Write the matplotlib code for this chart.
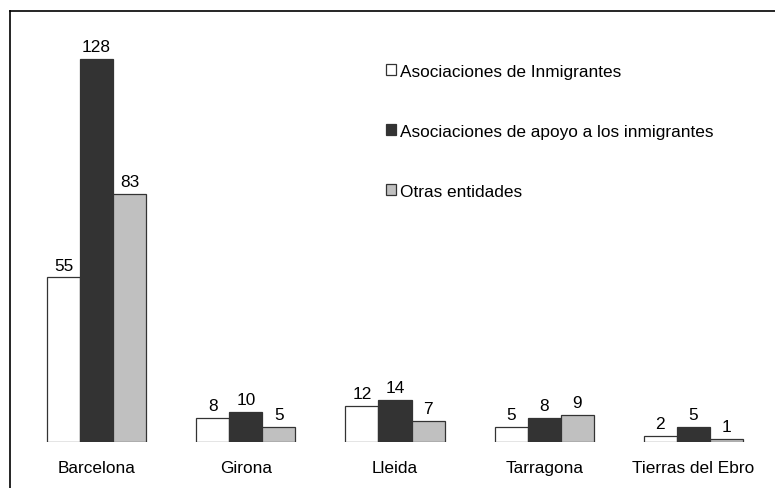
import numpy as np
import matplotlib.pyplot as plt
from matplotlib.patches import Patch
from matplotlib.lines import Line2D

plt.rcParams['font.family'] = ['Liberation Sans', 'DejaVu Sans']

regiones = ['Barcelona', 'Girona', 'Lleida', 'Tarragona', 'Tierras del Ebro']
inmigrantes = [55, 8, 12, 5, 2]
apoyo = [128, 10, 14, 8, 5]
otras = [83, 5, 7, 9, 1]

series = ['Asociaciones de Inmigrantes',
          'Asociaciones de apoyo a los inmigrantes',
          'Otras entidades']
colores = ['#ffffff', '#333333', '#c0c0c0']

fig = plt.figure(figsize=(7.75, 4.89), dpi=100)
ax = fig.add_axes([22 / 775, 46 / 489, 746 / 775, 419 / 489])

x = np.arange(len(regiones))
w = 0.222
fs = 12.4
for i, (vals, col, lab) in enumerate(zip([inmigrantes, apoyo, otras], colores, series)):
    bars = ax.bar(x + (i - 1) * w, vals, w, color=col, edgecolor='#333333',
                  linewidth=0.9, label=lab)
    for b, v in zip(bars, vals):
        ax.annotate(str(v), (b.get_x() + b.get_width() / 2, b.get_height()),
                    xytext=(0, 3.4), textcoords='offset points',
                    ha='center', va='bottom', fontsize=fs)

ax.set_xlim(-0.5, 4.5)
ax.set_ylim(0, 140)
ax.set_xticks(x)
ax.set_xticklabels(regiones, fontsize=fs)
ax.tick_params(axis='x', length=0, pad=13)
ax.set_yticks([])
for s in ax.spines.values():
    s.set_visible(False)

handles = [Patch(facecolor=c, edgecolor='#333333', linewidth=0.9) for c in colores]
fig.legend(handles, series, loc='upper left',
           bbox_to_anchor=(386 / 775, 1 - 65 / 489), frameon=False,
           fontsize=fs, handlelength=0.6, handleheight=0.6,
           handletextpad=0.22, labelspacing=2.6, borderpad=0, borderaxespad=0)

# marco exterior: solo lineas superior e izquierda (el resto queda fuera)
x0 = 10 / 775
y0 = 1 - 12 / 489
fig.add_artist(Line2D([x0, x0], [0, y0], transform=fig.transFigure,
                      color='black', linewidth=1.2, solid_capstyle='projecting'))
fig.add_artist(Line2D([x0, 1], [y0, y0], transform=fig.transFigure,
                      color='black', linewidth=1.2, solid_capstyle='projecting'))

fig.savefig('out.png', dpi=100)
